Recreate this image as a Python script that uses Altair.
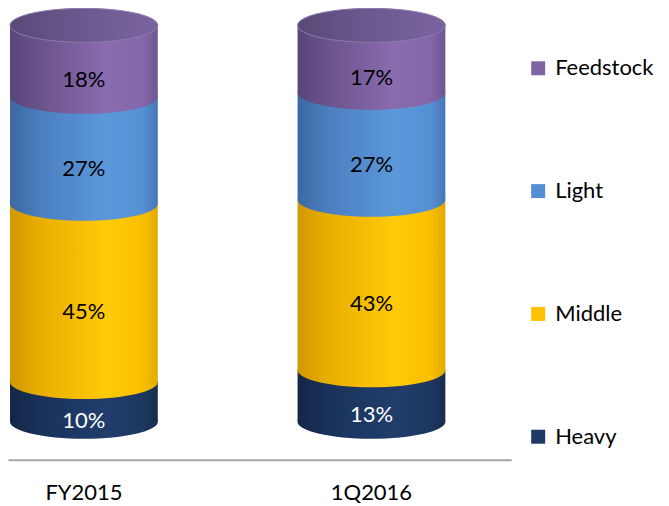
import altair as alt
import pandas as pd

periods = ["FY2015", "1Q2016"]
series = ["Heavy", "Middle", "Light", "Feedstock"]
fy2015 = [10, 45, 27, 18]
q1_2016 = [13, 43, 27, 17]

legend_order = ["Feedstock", "Light", "Middle", "Heavy"]
legend_colors = ["#8064A2", "#558ED5", "#FFC000", "#1F3864"]

rows = []
for p, vals in zip(periods, [fy2015, q1_2016]):
    for i, (s, v) in enumerate(zip(series, vals)):
        rows.append({"period": p, "series": s, "value": v, "order": i})
df = pd.DataFrame(rows)

FONT = "Lato"
BW = 148


def grad(stops):
    return {
        "gradient": "linear", "x1": 0, "x2": 1, "y1": 0, "y2": 0,
        "stops": [{"offset": o, "color": c} for o, c in stops],
    }


body_grad = {
    "Heavy": grad([(0, "#132647"), (0.2, "#19325a"), (0.65, "#203d6b"), (0.9, "#1d375f"), (1, "#172d50")]),
    "Middle": grad([(0, "#d09800"), (0.2, "#e8ae00"), (0.65, "#ffca08"), (0.9, "#f8bf00"), (1, "#e3a900")]),
    "Light": grad([(0, "#3c67a2"), (0.2, "#4a7fc0"), (0.65, "#5b98da"), (0.9, "#5590d3"), (1, "#4677b6")]),
    "Feedstock": grad([(0, "#58457a"), (0.2, "#6a538c"), (0.65, "#8a6bb0"), (0.9, "#8566aa"), (1, "#6c5690")]),
}
top_grad = grad([(0, "#5a4878"), (0.5, "#6c5990"), (1, "#7a64a0")])

ellipse = "M -1 0 A 1 0.23 0 0 1 1 0 A 1 0.23 0 0 1 -1 0 Z"

xscale = alt.Scale(domain=periods, paddingInner=0.486, paddingOuter=0.118, align=0.0294)
yscale = alt.Scale(domain=[-9.57, 104.28], nice=False, zero=False)

xenc = alt.X("period:N", scale=xscale, sort=periods,
             axis=alt.Axis(title=None, ticks=False, labelAngle=0, labelFont=FONT,
                           labelFontSize=22, labelColor="#000000", labelPadding=23,
                           domainColor="#A6A6A6", domainWidth=2))

base = alt.Chart(df).transform_stack(
    stack="value", as_=["y0", "y1"], groupby=["period"],
    sort=[alt.SortField("order", order="ascending")]
)

layers = []
for s in series:
    sub = base.transform_filter(alt.datum.series == s)
    layers.append(sub.mark_bar(fill=body_grad[s], width=BW, strokeWidth=0).encode(
        x=xenc,
        y=alt.Y("y0:Q", scale=yscale, axis=None),
        y2="y1:Q",
    ))
    layers.append(sub.mark_point(shape=ellipse, size=BW * BW, filled=True, fill=body_grad[s],
                                 opacity=1, strokeWidth=0).encode(
        x=xenc,
        y=alt.Y("y0:Q", scale=yscale, axis=None),
    ))

top = base.transform_filter(alt.datum.series == "Feedstock").mark_point(
    shape=ellipse, size=BW * BW, filled=True, fill=top_grad, opacity=1,
    stroke="#8d7bab", strokeWidth=1).encode(
    x=xenc,
    y=alt.Y("y1:Q", scale=yscale, axis=None),
)
layers.append(top)

text = base.transform_calculate(
    mid="(datum.y0 + datum.y1) / 2", label="datum.value + '%'"
).mark_text(font=FONT, fontSize=22, dy=19, baseline="middle").encode(
    x=xenc,
    y=alt.Y("mid:Q", scale=yscale, axis=None),
    text="label:N",
    color=alt.condition(alt.datum.series == "Heavy", alt.value("#ffffff"), alt.value("#000000")),
)
layers.append(text)

legend_layer = alt.Chart(df).mark_square(size=0, opacity=0).encode(
    x=xenc,
    y=alt.Y("value:Q", scale=yscale, axis=None),
    fill=alt.Fill("series:N", scale=alt.Scale(domain=legend_order, range=legend_colors),
                  legend=alt.Legend(title=None, orient="none", legendX=520, legendY=49,
                                    padding=0, offset=0,
                                    symbolType="square", symbolSize=196, symbolOpacity=1,
                                    symbolStrokeWidth=0, labelFont=FONT, labelFontSize=22,
                                    labelColor="#000000", labelOffset=6, rowPadding=101)),
)
layers.append(legend_layer)

chart = alt.layer(*layers).properties(
    width=504, height=452,
    autosize=alt.AutoSizeParams(type="none"),
    padding={"left": 0, "top": 0, "right": 150, "bottom": 46},
).configure_view(stroke=None)

chart.save("out.html", embed_options={"renderer": "svg", "actions": False})
